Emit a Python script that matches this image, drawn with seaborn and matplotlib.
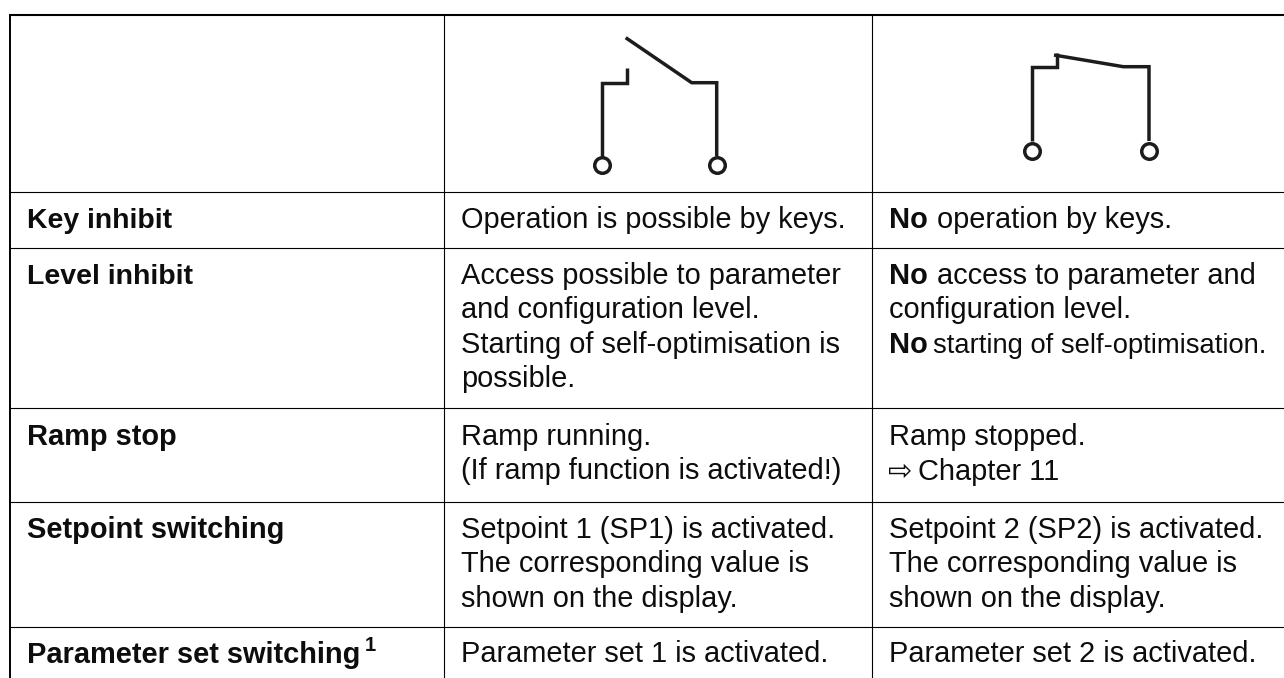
import matplotlib
matplotlib.use("Agg")
import matplotlib.pyplot as plt
import seaborn as sns

sns.set_theme(style="white")
plt.rcParams['font.family'] = ['Liberation Sans', 'DejaVu Sans']

W, H = 1284, 678
row_lines = [192, 248, 408, 502, 627]
col_lines = [444, 872]
left_line = 10
top_line = 15

labels = ["Key inhibit", "Level inhibit", "Ramp stop", "Setpoint switching", "Parameter set switching"]
label_y = [228, 284, 445, 538, 663]
label_size = [20.4, 20.5, 20.9, 20.9, 20.9]

open_text = [
    ("Operation is possible by keys.", 228),
    ("Access possible to parameter", 284),
    ("and configuration level.", 318),
    ("Starting of self-optimisation is", 353),
    ("possible.", 387),
    ("Ramp running.", 445),
    ("(If ramp function is activated!)", 479),
    ("Setpoint 1 (SP1) is activated.", 538),
    ("The corresponding value is", 572),
    ("shown on the display.", 607),
    ("Parameter set 1 is activated.", 662),
]
closed_plain = [
    ("configuration level.", 318),
    ("Ramp stopped.", 445),
    ("Setpoint 2 (SP2) is activated.", 538),
    ("The corresponding value is", 572),
    ("shown on the display.", 607),
    ("Parameter set 2 is activated.", 662),
]
closed_no = [
    ("operation by keys.", 228, 937, 20.9),
    ("access to parameter and", 284, 937, 20.9),
    ("starting of self-optimisation.", 353, 933, 19.75),
]
chapter_text = "Chapter 11"
chapter_y = 480

sw_open_left_x = [601.7, 601.7, 626.7, 626.7]
sw_open_left_y = [156, 82.7, 82.7, 68]
sw_open_arm_x = [625.7, 691.7, 716.7, 716.7]
sw_open_arm_y = [37.7, 82.7, 82.7, 156]
sw_open_circles = [(601.7, 165), (716.7, 165)]
sw_closed_left_x = [1031.7, 1031.7, 1056.7, 1056.7]
sw_closed_left_y = [141, 66.7, 66.7, 53.3]
sw_closed_arm_x = [1054, 1123.3, 1149, 1149]
sw_closed_arm_y = [55, 66.7, 66.7, 141]
sw_closed_circles = [(1031.7, 150.7), (1149, 150.7)]

FS = 20.9
DARK = "#1c1c1c"
INK = "#0d0d0d"

fig = plt.figure(figsize=(W / 100, H / 100), dpi=100, facecolor="white")
ax = fig.add_axes([0, 0, 1, 1])
ax.set_xlim(0, W)
ax.set_ylim(H, 0)
ax.axis("off")

ax.plot([left_line - 1, W], [top_line, top_line], color="black", lw=1.5, solid_capstyle="butt")
ax.plot([left_line, left_line], [top_line, H], color="black", lw=1.4, solid_capstyle="butt")
for y in row_lines:
    ax.plot([left_line, W], [y, y], color="black", lw=0.8, solid_capstyle="butt")
for x in col_lines:
    ax.plot([x, x], [top_line, H], color="black", lw=0.8, solid_capstyle="butt")

for xs, ys in [(sw_open_left_x, sw_open_left_y), (sw_open_arm_x, sw_open_arm_y),
               (sw_closed_left_x, sw_closed_left_y), (sw_closed_arm_x, sw_closed_arm_y)]:
    ax.plot(xs, ys, color=DARK, lw=2.5, solid_joinstyle="miter", solid_capstyle="butt")
for cx, cy in sw_open_circles + sw_closed_circles:
    ax.plot([cx], [cy], marker="o", ms=11.2, mfc="white", mec=DARK, mew=2.5)

for s, y, size in zip(labels, label_y, label_size):
    ax.text(27, y, s, fontsize=size, fontweight="bold", color=INK, va="baseline")
ax.text(365, 651, "1", fontsize=14.5, fontweight="bold", color=INK, va="baseline")

for s, y in open_text:
    ax.text(461, y, s, fontsize=FS, color=INK, va="baseline")

for s, y in closed_plain:
    ax.text(889, y, s, fontsize=FS, color=INK, va="baseline")
for s, y, x, size in closed_no:
    ax.text(889, y, "No", fontsize=FS, fontweight="bold", color=INK, va="baseline")
    ax.text(x, y, s, fontsize=size, color=INK, va="baseline")

ax.text(888, chapter_y, "\u21e8", fontsize=21, color=INK, va="baseline", family="DejaVu Sans")
ax.text(918, chapter_y, chapter_text, fontsize=FS, color=INK, va="baseline")

fig.savefig("out.png", dpi=100, facecolor="white")
